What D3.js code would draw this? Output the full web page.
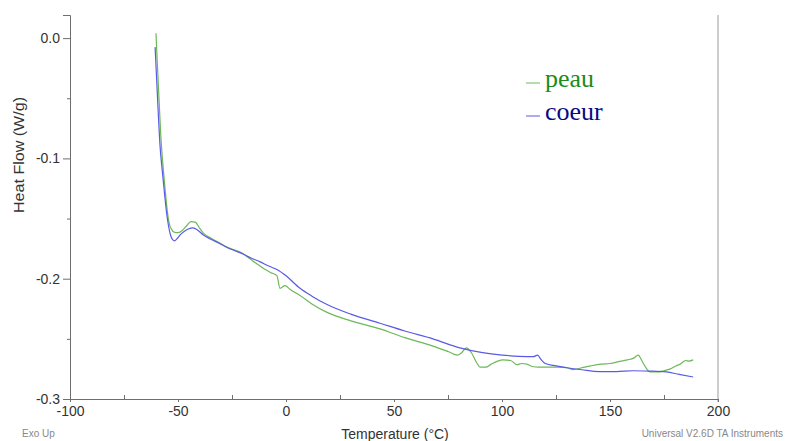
<!DOCTYPE html>
<html><head><meta charset="utf-8">
<script src="https://cdn.jsdelivr.net/npm/d3@7"></script>
<style>
html,body{margin:0;padding:0;background:#fff;}
svg{display:block;}
</style></head>
<body>
<svg id="chart" width="787" height="441"></svg>
<script>
// ---- data ----
const xTicks = [-100, -50, 0, 50, 100, 150, 200];
const xTickLabels = ["-100", "-50", "0", "50", "100", "150", "200"];
const xMinorTicks = [-75, -25, 25, 75, 125, 175];
const yTicks = [0.0, -0.1, -0.2, -0.3];
const yMinorTicks = [-0.05, -0.15, -0.25];
const yTickLabels = ["0.0", "-0.1", "-0.2", "-0.3"];

const peauT = [-60.2,-59.6,-58.8,-58,-57,-56,-55,-54.2,-53,-51.5,-50,-48,-46,-44,-42,-40,-38,-35,-31,-27,-24,-21,-17,-14,-10,-7,-4.2,-2.8,-0.5,2,6.5,12,19,30,43.5,55,68,75,79.5,81,83.5,86,88,90,92.5,95,98,100.5,104,107,109,111.5,114,117,121,126,130,133,137,141,146,150,154,158,161,163,165,167,168.5,172,175,178,180.5,182.5,185,186.5,188.5];
const peauV = [0.004,-0.02,-0.05,-0.08,-0.105,-0.125,-0.143,-0.153,-0.159,-0.1615,-0.1617,-0.160,-0.156,-0.1525,-0.153,-0.158,-0.1625,-0.166,-0.170,-0.174,-0.176,-0.178,-0.183,-0.187,-0.192,-0.195,-0.1975,-0.208,-0.2058,-0.209,-0.214,-0.221,-0.228,-0.235,-0.2417,-0.249,-0.256,-0.2605,-0.2635,-0.262,-0.2575,-0.262,-0.269,-0.2735,-0.2735,-0.271,-0.2685,-0.2675,-0.268,-0.2715,-0.2705,-0.271,-0.273,-0.2735,-0.2735,-0.2735,-0.274,-0.2755,-0.274,-0.2725,-0.271,-0.2705,-0.269,-0.2675,-0.266,-0.2635,-0.269,-0.275,-0.2775,-0.2775,-0.2765,-0.275,-0.2725,-0.271,-0.268,-0.2685,-0.2675];

const coeurT = [-60.6,-60,-59.2,-58.3,-57.3,-56.3,-55.3,-54.4,-53.5,-52.5,-51.5,-50.3,-49,-47,-45,-43,-41,-38.4,-35,-31,-27.3,-24,-20,-16,-12,-8,-4,0,6.5,12,19,30,43.5,55,68,80.5,91,100,108,114.5,116.5,118,120,125,130,137,145,153,160.7,168,176,182,188.5];
const coeurV = [-0.0075,-0.03,-0.06,-0.09,-0.11,-0.128,-0.145,-0.156,-0.1635,-0.1675,-0.1685,-0.1665,-0.1635,-0.1605,-0.1585,-0.1578,-0.1595,-0.1635,-0.167,-0.1705,-0.174,-0.1765,-0.1795,-0.183,-0.186,-0.1895,-0.1925,-0.1975,-0.208,-0.2145,-0.2215,-0.2295,-0.237,-0.2435,-0.25,-0.2575,-0.2615,-0.2635,-0.2645,-0.2648,-0.2635,-0.267,-0.2705,-0.2725,-0.274,-0.2757,-0.2772,-0.2772,-0.2765,-0.2768,-0.2775,-0.2795,-0.2817];

const seriesNames = ["peau", "coeur"];
const lineColors = ["#6cb85a", "#5a5ae6"];
const legendTextColors = ["#1a8c1a", "#0a0a80"];

// ---- layout ----
const svg = d3.select("#chart");
const x = d3.scaleLinear().domain([-100, 200]).range([70, 718]);
const y = d3.scaleLinear().domain([-0.3, 0.0192]).range([399, 15]);
const sans = "'Liberation Sans', Arial, sans-serif";
const axisColor = "#6e6e6e";

// right border
svg.append("line").attr("x1", 718).attr("x2", 718).attr("y1", y(0.0192)).attr("y2", 402)
  .attr("stroke", "#9a9a9a").attr("stroke-width", 1);

// Y axis
const yAxis = d3.axisLeft(y).tickValues(yTicks).tickSize(7).tickPadding(3)
  .tickFormat((d, i) => yTickLabels[i]);
const gy = svg.append("g").attr("transform", "translate(70,0)").call(yAxis);
gy.select(".domain").attr("stroke", axisColor);
gy.selectAll(".tick line").attr("stroke", axisColor);
gy.selectAll(".tick text").attr("fill", "#333").style("font-family", sans).style("font-size", "14px");
const gyMinor = svg.append("g").attr("transform", "translate(70,0)")
  .call(d3.axisLeft(y).tickValues(yMinorTicks).tickSize(3).tickFormat(""));
gyMinor.select(".domain").remove();
gyMinor.selectAll(".tick line").attr("stroke", axisColor);

// X axis
const xAxis = d3.axisBottom(x).tickValues(xTicks).tickSize(3).tickPadding(4)
  .tickFormat((d, i) => xTickLabels[i]);
const gx = svg.append("g").attr("transform", "translate(0,399)").call(xAxis);
gx.select(".domain").attr("stroke", axisColor);
gx.selectAll(".tick line").attr("stroke", axisColor);
gx.selectAll(".tick text").attr("fill", "#333").style("font-family", sans).style("font-size", "14px");
const gxMinor = svg.append("g").attr("transform", "translate(0,399)")
  .call(d3.axisTop(x).tickValues(xMinorTicks).tickSize(4).tickFormat(""));
gxMinor.select(".domain").remove();
gxMinor.selectAll(".tick line").attr("stroke", axisColor);

// axis titles
svg.append("text").attr("x", 395).attr("y", 439).attr("text-anchor", "middle")
  .style("font-family", sans).style("font-size", "14px").attr("fill", "#333")
  .text("Temperature (°C)");
svg.append("text").attr("transform", "translate(24,155) rotate(-90)").attr("text-anchor", "middle")
  .style("font-family", sans).style("font-size", "15px").attr("fill", "#333")
  .attr("textLength", 116).attr("lengthAdjust", "spacingAndGlyphs")
  .text("Heat Flow (W/g)");

// footer texts
svg.append("text").attr("x", 22).attr("y", 437).style("font-family", sans).style("font-size", "10px")
  .attr("fill", "#888").text("Exo Up");
svg.append("text").attr("x", 783).attr("y", 437).attr("text-anchor", "end").style("font-family", sans)
  .style("font-size", "10px").attr("fill", "#888").text("Universal V2.6D TA Instruments");

// lines
const line = d3.line().x(d => x(d[0])).y(d => y(d[1])).curve(d3.curveMonotoneX);
const peauData = peauT.map((t, i) => [t, peauV[i]]);
const coeurData = coeurT.map((t, i) => [t, coeurV[i]]);
svg.append("path").datum(peauData).attr("d", line).attr("fill", "none")
  .attr("stroke", lineColors[0]).attr("stroke-width", 1.2);
svg.append("path").datum(coeurData).attr("d", line).attr("fill", "none")
  .attr("stroke", lineColors[1]).attr("stroke-width", 1.2);

// legend
const serif = "'Liberation Serif', 'Times New Roman', serif";
seriesNames.forEach((name, i) => {
  const by = 87 + i * 33;
  svg.append("line").attr("x1", 526).attr("x2", 540).attr("y1", by - 4).attr("y2", by - 4)
    .attr("stroke", lineColors[i]).attr("stroke-width", 1);
  svg.append("text").attr("x", 545).attr("y", by).style("font-family", serif)
    .style("font-size", "26px").attr("fill", legendTextColors[i]).text(name);
});
</script>
</body></html>
